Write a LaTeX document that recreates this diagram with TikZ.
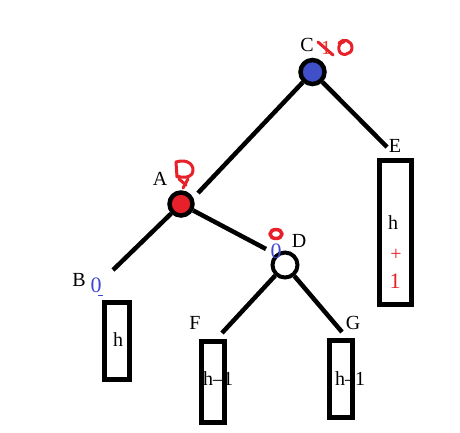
\documentclass[tikz,border=0pt]{standalone}
\usepackage{fontspec}
\setmainfont{Liberation Serif}
\definecolor{cblue}{HTML}{4050C8}
\definecolor{ared}{HTML}{E8202A}
\definecolor{mred}{HTML}{E8202A}
\definecolor{zblue}{HTML}{4048D0}
\begin{document}
\begin{tikzpicture}[x=1pt,y=-1pt,
 vtx/.style={circle,draw=black,line width=4.5pt,inner sep=0pt,minimum size=24pt},
 leaf/.style={rectangle,draw=black,line width=5pt,inner sep=0pt},
 edge/.style={line width=4.5pt},
 lbl/.style={font=\fontsize{20}{20}\selectfont,inner sep=0pt},
 bigdigit/.style={font=\fontsize{22}{22}\selectfont,inner sep=0pt},
 scrib/.style={draw=mred,line width=3pt,line cap=round,line join=round}]
\useasboundingbox[fill=white] (0,0) rectangle (460,432);
% vertices
\node[vtx,fill=cblue] (C) at (312.5,72) {};
\node[vtx,fill=ared,minimum size=23pt] (A) at (181,204) {};
\node[vtx,fill=white,line width=4pt,minimum size=25pt] (D) at (285,265) {};
% subtrees
\node[leaf,minimum width=25pt,minimum height=77pt] (B) at (117,341) {};
\node[leaf,minimum width=23pt,minimum height=81pt] (F) at (213,382) {};
\node[leaf,minimum width=23pt,minimum height=77pt] (G) at (341,379) {};
\node[leaf,minimum width=32pt,minimum height=144pt] (E) at (395.5,232.5) {};
% connector ends
\coordinate (ca) at (198,193);
\coordinate (ce) at (387,147);
\coordinate (ab) at (113,270);
\coordinate (ad) at (266,249);
\coordinate (df) at (222,333);
\coordinate (dg) at (342,332);
\draw[edge] (C) -- (ca);
\draw[edge] (C) -- (ce);
\draw[edge] (A) -- (ab);
\draw[edge] (A) -- (ad);
\draw[edge] (D) -- (df);
\draw[edge] (D) -- (dg);
% labels
\node[lbl] (lC) at (307,45) {C};
\node[lbl] (lA) at (160,179) {A};
\node[lbl] (lB) at (79,280) {B};
\node[lbl] (lD) at (299,241) {D};
\node[lbl] (lE) at (395,146) {E};
\node[lbl] (lF) at (195,323) {F};
\node[lbl] (lG) at (353,323) {G};
% box texts
\node[lbl] (tB) at (118,340) {h};
\node[lbl] (tF) at (218,379) {h–1};
\node[lbl] (tG) at (350,379) {h–1};
\node[lbl] (tE) at (393,223) {h};
\node[lbl,text=mred] (tE2) at (396,255) {+};
\node[bigdigit,text=mred] (tE3) at (395,281) {1};
% blue zeros
\node[bigdigit,text=zblue] (zB) at (96,285) {0};
\node[bigdigit,text=zblue] (zD) at (276,251) {0};
\draw[zblue,line width=1pt] (98,295) -- (103,295);
% red scribbles near C
\node[lbl,text=mred!75!orange] (oneC) at (326,48) {1};
\draw[scrib] (318,42) -- (333,55);
\draw[scrib] (339,43) .. controls (343,38) and (352,40) .. (352,48) .. controls (352,55) and (340,57) .. (339,50) .. controls (338,45) and (341,42) .. (344,42);
% red scribble near A
\draw[scrib] (176,162) -- (177,177);
\draw[scrib] (176,162) .. controls (188,158) and (196,166) .. (192,174) .. controls (189,178) and (182,178) .. (177,176);
\draw[scrib] (179,179) -- (186,185);
\draw[scrib] (188,179) -- (183,188);
% red scribble near D
\draw[scrib,line width=3.5pt] (276,234) ellipse [x radius=6,y radius=4.5];
\end{tikzpicture}
\end{document}
